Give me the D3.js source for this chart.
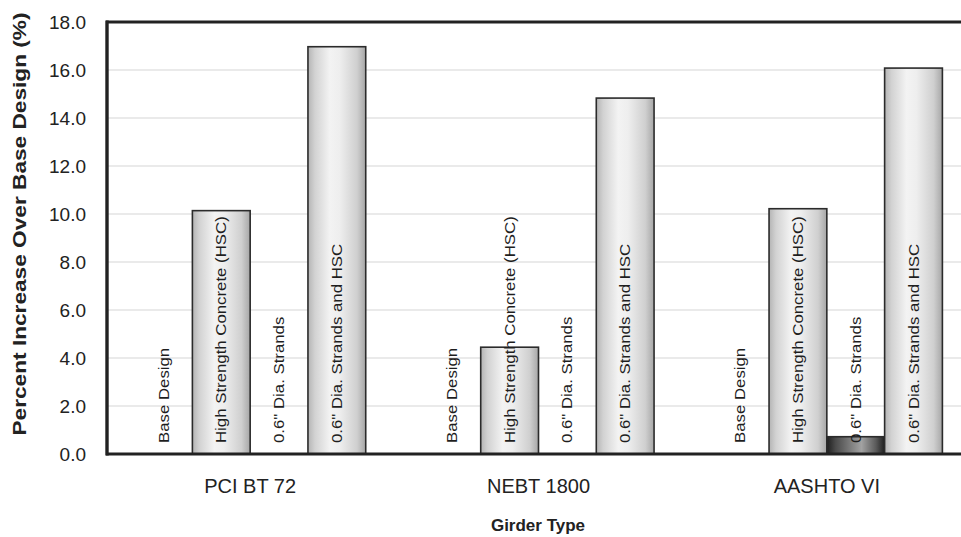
<!DOCTYPE html>
<html>
<head>
<meta charset="utf-8">
<script src="https://cdn.jsdelivr.net/npm/d3@7"></script>
<style>
  html, body { margin: 0; padding: 0; background: #fff; }
  svg { display: block; font-family: Arial, "Liberation Sans", sans-serif; }
</style>
</head>
<body>
<svg id="chart" width="961" height="537"></svg>
<script>
// ---- data ----
const categories = ["PCI BT 72", "NEBT 1800", "AASHTO VI"];
const series = ["Base Design", "High Strength Concrete (HSC)", "0.6\" Dia. Strands", "0.6\" Dia. Strands and HSC"];
const baseDesign = [0, 0, 0];
const hsc = [10.14, 4.45, 10.22];
const strands = [0, 0, 0.72];
const strandsHsc = [16.97, 14.83, 16.08];
const yTicks = [0, 2, 4, 6, 8, 10, 12, 14, 16, 18];
const yTitle = "Percent Increase Over Base Design (%)";
const xTitle = "Girder Type";

const seriesValues = [baseDesign, hsc, strands, strandsHsc];

// ---- layout ----
const svg = d3.select("#chart");
const plotLeft = 106, plotTop = 22, plotBottom = 454;
const plotW = 865; // plot extends slightly beyond the visible frame

const y = d3.scaleLinear().domain([0, 18]).range([plotBottom, plotTop]);
const x0 = d3.scaleBand().domain(categories).range([plotLeft, plotLeft + plotW]).padding(0);
const grpPad = 28.6;
const x1 = d3.scaleBand().domain(series).range([grpPad, x0.bandwidth() - grpPad]).padding(0);

// gradients
const defs = svg.append("defs");
const g1 = defs.append("linearGradient").attr("id", "barGrad").attr("x1", "0").attr("x2", "1").attr("y1", "0").attr("y2", "0");
[[0, "#b4b4b4"], [0.12, "#d2d2d2"], [0.38, "#f3f3f3"], [0.55, "#eeeeee"], [0.85, "#cfcfcf"], [1, "#a6a6a6"]]
  .forEach(([o, c]) => g1.append("stop").attr("offset", o).attr("stop-color", c));
const g2 = defs.append("linearGradient").attr("id", "darkGrad").attr("x1", "0").attr("x2", "1").attr("y1", "0").attr("y2", "0");
[[0, "#1e1e1e"], [0.15, "#4a4a4a"], [0.6, "#a2a2a2"], [0.85, "#5a5a5a"], [1, "#1e1e1e"]]
  .forEach(([o, c]) => g2.append("stop").attr("offset", o).attr("stop-color", c));
const fills = ["url(#barGrad)", "url(#barGrad)", "url(#darkGrad)", "url(#barGrad)"];

// gridlines
svg.append("g").selectAll("line").data(yTicks.filter(t => t > 0 && t < 18)).join("line")
  .attr("x1", plotLeft).attr("x2", plotLeft + plotW)
  .attr("y1", d => y(d)).attr("y2", d => y(d))
  .attr("stroke", "#d6d6d6").attr("stroke-width", 1.2);

// bars
const rows = [];
categories.forEach((c, ci) => series.forEach((s, si) => rows.push({ c, s, si, v: seriesValues[si][ci] })));

svg.append("g").selectAll("rect").data(rows.filter(d => d.v > 0)).join("rect")
  .attr("x", d => x0(d.c) + x1(d.s))
  .attr("width", x1.bandwidth())
  .attr("y", d => y(d.v))
  .attr("height", d => y(0) - y(d.v))
  .attr("fill", d => fills[d.si])
  .attr("stroke", "#2b2b2b").attr("stroke-width", 1.6);

// bar labels (rotated)
svg.append("g").selectAll("text").data(rows).join("text")
  .attr("transform", d => `translate(${x0(d.c) + x1(d.s) + x1.bandwidth() / 2},443) rotate(-90) scale(1.2,1)`)
  .attr("dy", "0.36em")
  .attr("text-anchor", "start")
  .attr("font-size", 14)
  .attr("fill", "#1e1e1e")
  .text(d => d.s);

// axes lines
svg.append("line").attr("x1", plotLeft).attr("x2", 961).attr("y1", plotTop).attr("y2", plotTop)
  .attr("stroke", "#222").attr("stroke-width", 3.2);
svg.append("line").attr("x1", plotLeft).attr("x2", 961).attr("y1", plotBottom).attr("y2", plotBottom)
  .attr("stroke", "#222").attr("stroke-width", 3.2);
svg.append("line").attr("x1", plotLeft + 1).attr("x2", plotLeft + 1).attr("y1", plotTop - 1.6).attr("y2", plotBottom + 1.6)
  .attr("stroke", "#222").attr("stroke-width", 3.4);

// y axis tick labels
const yAxis = d3.axisLeft(y).tickValues(yTicks).tickFormat(d3.format(".1f")).tickSize(0).tickPadding(0);
const ya = svg.append("g").attr("transform", "translate(86,0)").call(yAxis);
ya.select(".domain").remove();
ya.selectAll("text").attr("font-size", 19).attr("fill", "#222").attr("font-family", "Arial, 'Liberation Sans', sans-serif").attr("dy", "0.33em");

// x axis category labels
const xAxis = d3.axisBottom(x0).tickSize(0).tickPadding(0);
const xa = svg.append("g").attr("transform", "translate(0,493)").call(xAxis);
xa.select(".domain").remove();
xa.selectAll("text").attr("font-size", 20).attr("fill", "#222").attr("font-family", "Arial, 'Liberation Sans', sans-serif").attr("dy", 0);

// titles
svg.append("text")
  .attr("transform", "translate(26,224) rotate(-90)")
  .attr("text-anchor", "middle")
  .attr("font-size", 18).attr("font-weight", "bold").attr("fill", "#222")
  .attr("textLength", 423).attr("lengthAdjust", "spacingAndGlyphs")
  .text(yTitle);

svg.append("text")
  .attr("x", 538).attr("y", 531)
  .attr("text-anchor", "middle")
  .attr("font-size", 17).attr("font-weight", "bold").attr("fill", "#222")
  .text(xTitle);
</script>
</body>
</html>
